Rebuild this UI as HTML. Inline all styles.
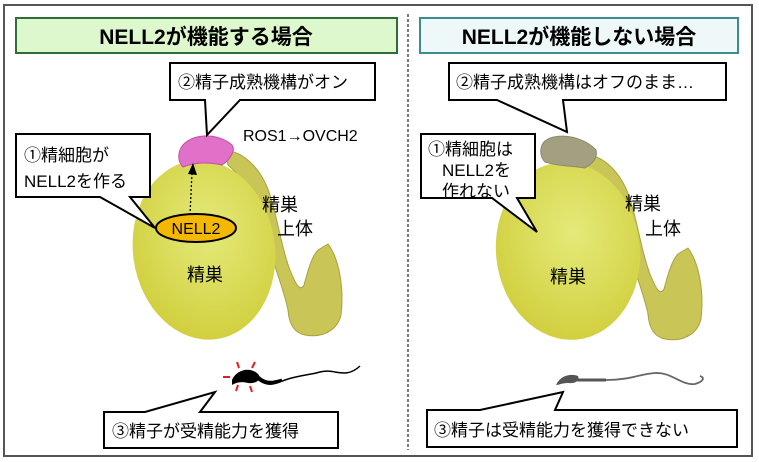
<!DOCTYPE html>
<html><head><meta charset="utf-8"><style>
html,body{margin:0;padding:0;background:#fff;}
svg{display:block;font-family:"Liberation Sans","Noto Sans CJK JP",sans-serif;}
</style></head><body>
<svg width="759" height="462" viewBox="0 0 759 462" xmlns="http://www.w3.org/2000/svg">
<defs>
<radialGradient id="tg" cx="0.55" cy="0.4" r="0.6">
<stop offset="0" stop-color="#e4ea7a"/><stop offset="1" stop-color="#d2d040"/>
</radialGradient>
<path id="epi" d="M225,150 C245,152 262,170 270,195 C278,220 282,250 290,270 C296,285 300,292 304,285 C308,270 312,256 318,250 L328,244 C340,260 344,290 341,315 C337,332 320,338 305,335 C295,333 289,325 288,310 C284,290 274,265 266,240 C258,210 248,182 228,165 Z" fill="#c9c556" stroke="#a8a240" stroke-width="1"/>
</defs>
<rect x="4" y="5" width="748" height="451" fill="#fff" stroke="#555" stroke-width="2"/>
<line x1="408" y1="14" x2="408" y2="450" stroke="#333" stroke-width="1.3" stroke-dasharray="3,2"/>

<!-- titles -->
<rect x="16" y="18" width="381" height="35" fill="#dcf8cc" stroke="#2f6e35" stroke-width="2"/>
<text x="206" y="44" font-size="21" font-weight="bold" text-anchor="middle">NELL2が機能する場合</text>
<rect x="420" y="18" width="318" height="35" fill="#eef8f8" stroke="#3e8c8e" stroke-width="2"/>
<text x="579" y="44" font-size="21" font-weight="bold" text-anchor="middle">NELL2が機能しない場合</text>

<!-- LEFT diagram -->
<use href="#epi"/>
<ellipse cx="204" cy="250" rx="71" ry="90" transform="rotate(-8 204 250)" fill="url(#tg)"/>
<path d="M180,150 C185,135 215,130 232,145 C236,150 230,160 222,165 C210,162 195,162 183,167 C178,162 178,155 180,150 Z" fill="#e070c8" stroke="#c050a8" stroke-width="1"/>
<line x1="190" y1="215" x2="192" y2="172" stroke="#000" stroke-width="1.3" stroke-dasharray="2,2"/>
<path d="M188,174 L193,163 L197,175 Z" fill="#000"/>
<text x="243" y="141" font-size="16">ROS1→OVCH2</text>
<text x="262" y="211" font-size="18">精巣</text>
<text x="277" y="235" font-size="18">上体</text>
<text x="205" y="281" font-size="18" text-anchor="middle">精巣</text>

<!-- callout 1 left -->
<path d="M16,134 H150 V197 H130 L155,228 L100,197 H16 Z" fill="#fff" stroke="#000" stroke-width="2"/>
<text x="24" y="161" font-size="17">①精細胞が</text>
<text x="24" y="187" font-size="17">NELL2を作る</text>
<ellipse cx="196" cy="228" rx="40" ry="14" fill="#f5b800" stroke="#000" stroke-width="2"/>
<text x="196" y="234" font-size="16" text-anchor="middle">NELL2</text>

<!-- callout 2 left -->
<path d="M170,63 H375 V100 H240 L207,135 L205,100 H170 Z" fill="#fff" stroke="#000" stroke-width="2"/>
<text x="178" y="88" font-size="17">②精子成熟機構がオン</text>

<!-- sperm left -->
<path d="M232,380 C236,370 250,366 258,374 C262,378 258,384 248,383 C240,381 236,383 232,385 Z" fill="#000"/>
<path d="M256,378 C268,388 275,384 285,380 C300,375 310,375 320,372 C335,368 345,380 360,366" fill="none" stroke="#000" stroke-width="1.5"/>
<path d="M258,377 C266,384 272,383 282,380" fill="none" stroke="#000" stroke-width="3"/>
<g stroke="#e02020" stroke-width="2">
<line x1="223" y1="377" x2="230" y2="377"/><line x1="237" y1="362" x2="239" y2="368"/><line x1="255" y1="362" x2="252" y2="368"/><line x1="238" y1="385" x2="236" y2="391"/><line x1="250" y1="386" x2="252" y2="392"/>
</g>
<path d="M104,412 H145 L215,392 L200,412 H338 V448 H104 Z" fill="#fff" stroke="#000" stroke-width="2"/>
<text x="112" y="437" font-size="17">③精子が受精能力を獲得</text>

<!-- RIGHT diagram -->
<use href="#epi" transform="translate(360,4)"/>
<ellipse cx="568" cy="251" rx="72" ry="89" transform="rotate(-6 568 251)" fill="url(#tg)"/>
<path d="M542,145 C548,132 580,133 596,150 C598,158 592,164 585,168 C572,166 558,166 545,162 C540,157 540,150 542,145 Z" fill="#a3a082" stroke="#8e8a6a" stroke-width="1"/>
<text x="625" y="210" font-size="18">精巣</text>
<text x="645" y="235" font-size="18">上体</text>
<text x="568" y="283" font-size="18" text-anchor="middle">精巣</text>

<path d="M421,134 H535 V198 H517 L537,232 L492,198 H421 Z" fill="#fff" stroke="#000" stroke-width="2"/>
<text x="428" y="155" font-size="17">①精細胞は</text>
<text x="442" y="176" font-size="17">NELL2を</text>
<text x="442" y="197" font-size="17">作れない</text>

<path d="M449,63 H726 V100 H563 L567,132 L497,100 H449 Z" fill="#fff" stroke="#000" stroke-width="2"/>
<text x="456" y="88" font-size="17">②精子成熟機構はオフのまま…</text>

<path d="M556,385 C560,376 570,373 578,376 C580,380 576,384 568,383 C562,383 559,385 556,385 Z" fill="#555"/>
<line x1="576" y1="380" x2="606" y2="380" stroke="#555" stroke-width="3"/>
<path d="M606,380 C630,380 640,374 655,373 C672,372 682,386 695,384 C702,382 706,378 700,376" fill="none" stroke="#666" stroke-width="1.8"/>
<path d="M427,410 H480 L563,392 L555,410 H737 V447 H427 Z" fill="#fff" stroke="#000" stroke-width="2"/>
<text x="434" y="436" font-size="17">③精子は受精能力を獲得できない</text>
</svg>
</body></html>
